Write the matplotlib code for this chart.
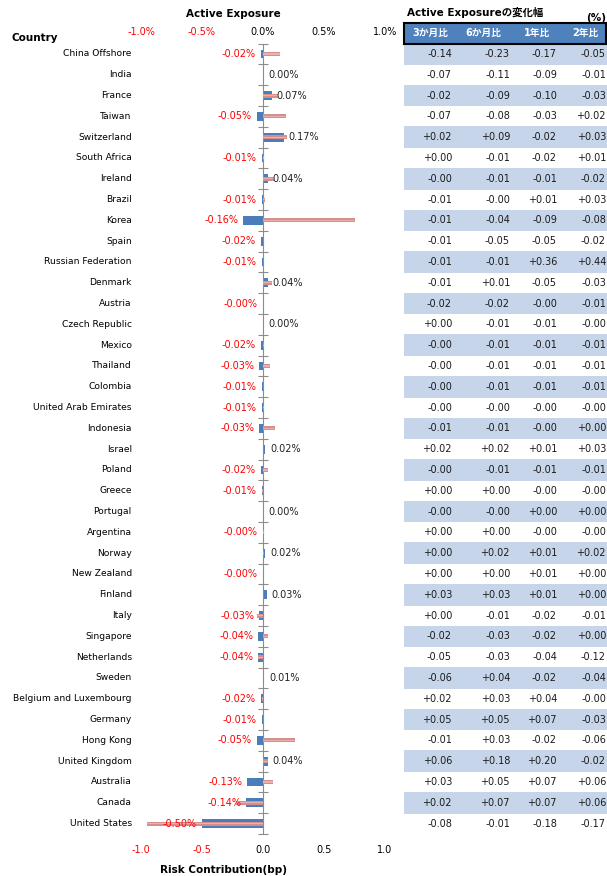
import numpy as np
import matplotlib.pyplot as plt

plt.rcParams['font.family'] = ['DejaVu Sans', 'Noto Sans CJK JP']

countries = ['China Offshore', 'India', 'France', 'Taiwan', 'Switzerland', 'South Africa',
             'Ireland', 'Brazil', 'Korea', 'Spain', 'Russian Federation', 'Denmark', 'Austria',
             'Czech Republic', 'Mexico', 'Thailand', 'Colombia', 'United Arab Emirates',
             'Indonesia', 'Israel', 'Poland', 'Greece', 'Portugal', 'Argentina', 'Norway',
             'New Zealand', 'Finland', 'Italy', 'Singapore', 'Netherlands', 'Sweden',
             'Belgium and Luxembourg', 'Germany', 'Hong Kong', 'United Kingdom', 'Australia',
             'Canada', 'United States']

# active exposure (%), top axis
active = [-0.02, 0.00, 0.07, -0.05, 0.17, -0.01, 0.04, -0.01, -0.16, -0.02, -0.01, 0.04,
          -0.002, 0.00, -0.02, -0.03, -0.01, -0.01, -0.03, 0.02, -0.02, -0.01, 0.00, -0.002,
          0.02, -0.002, 0.03, -0.03, -0.04, -0.04, 0.01, -0.02, -0.01, -0.05, 0.04, -0.13,
          -0.14, -0.50]

# risk contribution (bp), bottom axis
risk = [0.14, 0.00, 0.12, 0.19, 0.20, 0.01, 0.09, 0.02, 0.75, 0.00, 0.00, 0.07, 0.00, 0.00,
        0.01, 0.06, 0.00, 0.01, 0.10, 0.00, 0.04, -0.01, 0.00, 0.01, 0.01, 0.00, 0.00, -0.05,
        0.04, -0.04, 0.00, -0.01, 0.00, 0.26, 0.04, 0.08, -0.22, -0.95]

# change in active exposure table
col_labels = ['3か月比', '6か月比', '1年比', '2年比']
chg_3m = [-0.14, -0.07, -0.02, -0.07, +0.02, +0.00, -0.00, -0.01, -0.01, -0.01, -0.01, -0.01,
          -0.02, +0.00, -0.00, -0.00, -0.00, -0.00, -0.01, +0.02, -0.00, +0.00, -0.00, +0.00,
          +0.00, +0.00, +0.03, +0.00, -0.02, -0.05, -0.06, +0.02, +0.05, -0.01, +0.06, +0.03,
          +0.02, -0.08]
chg_6m = [-0.23, -0.11, -0.09, -0.08, +0.09, -0.01, -0.01, -0.00, -0.04, -0.05, -0.01, +0.01,
          -0.02, -0.01, -0.01, -0.01, -0.01, -0.00, -0.01, +0.02, -0.01, +0.00, -0.00, +0.00,
          +0.02, +0.00, +0.03, -0.01, -0.03, -0.03, +0.04, +0.03, +0.05, +0.03, +0.18, +0.05,
          +0.07, -0.01]
chg_1y = [-0.17, -0.09, -0.10, -0.03, -0.02, -0.02, -0.01, +0.01, -0.09, -0.05, +0.36, -0.05,
          -0.00, -0.01, -0.01, -0.01, -0.01, -0.00, -0.00, +0.01, -0.01, -0.00, +0.00, -0.00,
          +0.01, +0.01, +0.01, -0.02, -0.02, -0.04, -0.02, +0.04, +0.07, -0.02, +0.20, +0.07,
          +0.07, -0.18]
chg_2y = [-0.05, -0.01, -0.03, +0.02, +0.03, +0.01, -0.02, +0.03, -0.08, -0.02, +0.44, -0.03,
          -0.01, -0.00, -0.01, -0.01, -0.01, -0.00, +0.00, +0.03, -0.01, -0.00, +0.00, -0.00,
          +0.02, +0.00, +0.00, -0.01, +0.00, -0.12, -0.04, -0.00, -0.03, -0.06, -0.02, +0.06,
          +0.06, -0.17]

xticks = [-1.0, -0.5, 0.0, 0.5, 1.0]

W, H = 607, 876
n = len(countries)
row0, step = 54, 20.8
top_px = row0 - 0.5 * step
bot_px = row0 + (n - 0.5) * step
blue = '#4A7EBB'
pink = '#D98D8B'
red = '#FF0000'

fig = plt.figure(figsize=(W / 100, H / 100), dpi=100)
ax = fig.add_axes([141 / W, 1 - bot_px / H, 244 / W, (bot_px - top_px) / H])
y = np.arange(n)
ax.barh(y, active, height=0.42, color=blue, zorder=2)
ax.barh(y, risk, height=0.2, color=pink, zorder=3)
ax.barh(y, risk, height=0.06, color='#E9B1B0', zorder=3)
ax.set_xlim(-1, 1)
ax.set_ylim(n - 0.5, -0.5)

for s in ['top', 'right', 'bottom']:
    ax.spines[s].set_visible(False)
ax.spines['left'].set_position(('data', 0))
ax.spines['left'].set_color('#8C8C8C')
ax.set_yticks(np.arange(-0.5, n, 1.0))
ax.tick_params(axis='y', direction='inout', length=7, color='#8C8C8C', labelleft=False)

ax.set_xticks(xticks, labels=['%.1f' % t for t in xticks])
ax.tick_params(axis='x', length=0, pad=8, labelsize=7)
for t, lab in zip(xticks, ax.get_xticklabels()):
    lab.set_color(red if t < 0 else 'black')

sec = ax.secondary_xaxis('top')
sec.set_xticks(xticks, labels=['%.1f%%' % t for t in xticks])
sec.tick_params(length=0, pad=5, labelsize=7)
sec.spines['top'].set_visible(False)
for t, lab in zip(xticks, sec.get_xticklabels()):
    lab.set_color(red if t < 0 else 'black')

for i, (name, v) in enumerate(zip(countries, active)):
    ax.text(-1.075, i, name, ha='right', va='center', fontsize=6.6)
    if v < 0:
        ax.text(v - 0.04, i, '%.2f%%' % v, ha='right', va='center', fontsize=7, color=red, zorder=4)
    else:
        ax.text(v + 0.04, i, '%.2f%%' % v, ha='left', va='center', fontsize=7, color='#222222', zorder=4)

fig.text(233 / W, 1 - 14 / H, 'Active Exposure', ha='center', va='center',
         fontsize=7.5, fontweight='bold')
fig.text(223 / W, 1 - 870 / H, 'Risk Contribution(bp)', ha='center', va='center',
         fontsize=7.5, fontweight='bold')
fig.text(12 / W, 1 - 38 / H, 'Country', ha='left', va='center', fontsize=7.5, fontweight='bold')

# table on the right
tax = fig.add_axes([404 / W, 1 - bot_px / H, (W - 404) / W, (bot_px - top_px) / H])
tax.set_xlim(404, W)
tax.set_ylim(n - 0.5, -0.5)
tax.axis('off')
tax.barh(y[::2], W - 404, left=404, height=1.04, color='#C6D5EA', zorder=1)
tax.add_patch(plt.Rectangle((404.5, -1.5), W - 405.5, 1.0, facecolor='#4F81BD',
                            edgecolor='black', lw=1.5, clip_on=False, zorder=2))
col_x = [452, 510, 557, 606]
col_c = [430, 483, 537, 585]
for cx, lab in zip(col_c, col_labels):
    tax.text(cx, -1.0, lab, ha='center', va='center', color='white', fontsize=7,
             fontweight='bold', zorder=3)
for cx, col in zip(col_x, [chg_3m, chg_6m, chg_1y, chg_2y]):
    for i, v in enumerate(col):
        tax.text(cx, i, format(v, '+.2f'), ha='right', va='center', fontsize=7,
                 color='#1A1A1A', zorder=3)
tax.text(407, -1.98, 'Active Exposureの変化幅', ha='left', va='center', fontsize=7.5,
         fontweight='bold')
tax.text(606, -1.75, '(%)', ha='right', va='center', fontsize=7.5, fontweight='bold')

fig.savefig('out.png', dpi=100)
